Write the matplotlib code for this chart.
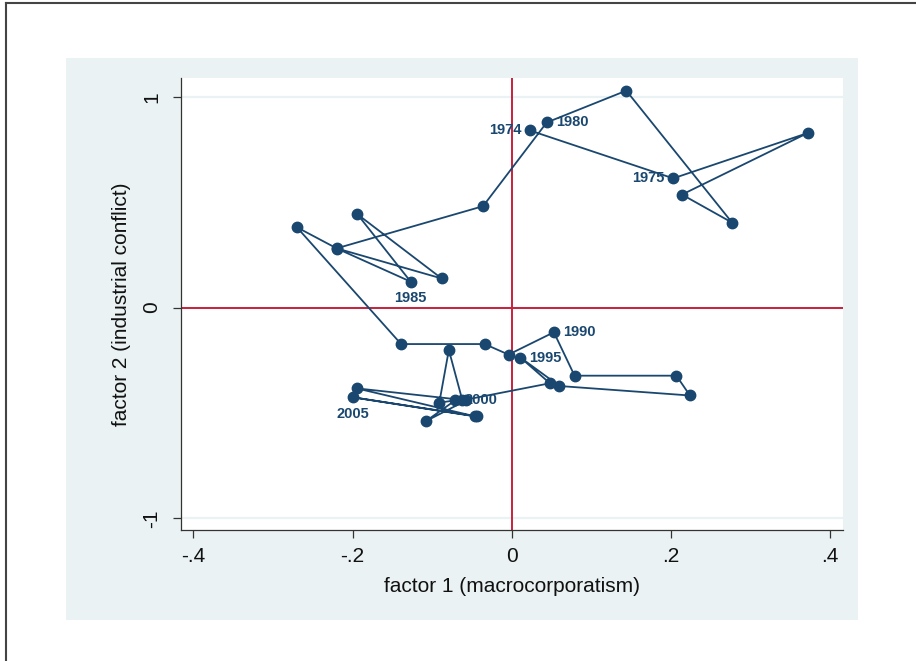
import matplotlib
matplotlib.use("Agg")
import matplotlib.pyplot as plt
from matplotlib.patches import Rectangle
from matplotlib.lines import Line2D

# path of the two factor scores, in year order
factor1 = [0.023, 0.203, 0.372, 0.214, 0.277, 0.144, 0.044, -0.036,
           -0.220, -0.088, -0.194, -0.127, -0.219, -0.270, -0.139, -0.034,
           -0.004, 0.053, 0.079, 0.207, 0.224, 0.060, 0.011, 0.048,
           -0.062, -0.079, -0.091, -0.071, -0.108, -0.057, -0.195, -0.046,
           -0.199, -0.044]
factor2 = [0.840, 0.613, 0.828, 0.536, 0.403, 1.029, 0.878, 0.481,
           0.281, 0.138, 0.443, 0.123, 0.279, 0.381, -0.173, -0.173,
           -0.223, -0.117, -0.323, -0.323, -0.417, -0.372, -0.237, -0.359,
           -0.440, -0.201, -0.451, -0.440, -0.539, -0.440, -0.383, -0.516,
           -0.426, -0.516]
# year labels shown next to some points (empty = no label)
point_labels = ["1974", "1975", "", "", "", "", "1980", "",
                "", "", "", "1985", "", "", "", "",
                "", "1990", "", "", "", "", "1995", "",
                "", "", "", "2000", "", "", "", "",
                "2005", ""]
# where each label sits: l = left, r = right, b = below
label_side = ["l", "l", "", "", "", "", "r", "",
              "", "", "", "b", "", "", "", "",
              "", "r", "", "", "", "", "r", "",
              "", "", "", "r", "", "", "", "",
              "b", ""]

x_ticks = [-0.4, -0.2, 0, 0.2, 0.4]
x_tick_labels = ["-.4", "-.2", "0", ".2", ".4"]
y_ticks = [-1, 0, 1]
y_tick_labels = ["-1", "0", "1"]

NAVY = "#1a476f"
PANEL = "#eaf2f3"
RED = "#c8203c"
W, H = 916, 661


def main():
    plt.rcParams["font.family"] = ["Liberation Sans", "DejaVu Sans"]
    fig = plt.figure(figsize=(W / 100, H / 100), dpi=100)

    # outer frame (cut off at right and bottom) and the light blue graph region
    fig.add_artist(Line2D([5.5 / W, 5.5 / W], [0, 1 - 3 / H], color="#444444",
                          lw=1.5, transform=fig.transFigure))
    fig.add_artist(Line2D([5.5 / W, 1], [1 - 3 / H, 1 - 3 / H], color="#444444",
                          lw=1.5, transform=fig.transFigure))
    fig.add_artist(Rectangle((66 / W, 1 - 620 / H), 792 / W, 562 / H,
                             facecolor=PANEL, edgecolor="none",
                             transform=fig.transFigure, zorder=-5))

    ax = fig.add_axes([180.7 / W, 1 - 530 / H, 662 / W, 452 / H])
    ax.set_zorder(1)
    ax.set_facecolor("white")
    ax.set_xlim(-0.416, 0.416)
    ax.set_ylim(-1.055, 1.089)

    for side in ["top", "right"]:
        ax.spines[side].set_visible(False)
    for side in ["left", "bottom"]:
        ax.spines[side].set_color("#333333")
        ax.spines[side].set_linewidth(0.9)

    # light grid lines at the y ticks
    for yv in y_ticks:
        ax.axhline(yv, color=PANEL, lw=1.6, zorder=1)

    # reference lines at zero
    ax.axhline(0, color=RED, lw=1.4, zorder=2)
    ax.axvline(0, color=RED, lw=1.4, zorder=2)

    ax.plot(factor1, factor2, color=NAVY, lw=1.3, marker="o", markersize=7.5,
            markerfacecolor=NAVY, markeredgecolor=NAVY, zorder=3)

    offsets = {"l": ((-6, 0), "right", "center"),
               "r": ((6.5, 0), "left", "center"),
               "b": ((0, -7), "center", "top")}
    for xv, yv, txt, side in zip(factor1, factor2, point_labels, label_side):
        if not txt:
            continue
        off, ha, va = offsets[side]
        ax.annotate(txt, (xv, yv), xytext=off, textcoords="offset points",
                    ha=ha, va=va, fontsize=10.5, fontweight="bold",
                    color=NAVY, zorder=4)

    ax.set_xticks(x_ticks)
    ax.set_xticklabels(x_tick_labels)
    ax.set_yticks(y_ticks)
    ax.set_yticklabels(y_tick_labels, rotation=90, va="center")
    ax.tick_params(axis="both", direction="out", length=6, width=0.9,
                   color="#333333", labelsize=15, labelcolor="#111111")
    ax.tick_params(axis="x", pad=6)
    ax.tick_params(axis="y", pad=8)

    ax.set_xlabel("factor 1 (macrocorporatism)", fontsize=15,
                  color="#111111", labelpad=8)
    ax.set_ylabel("factor 2 (industrial conflict)", fontsize=15,
                  color="#111111", labelpad=8)

    fig.savefig("out.png", dpi=100)


if __name__ == "__main__":
    main()
